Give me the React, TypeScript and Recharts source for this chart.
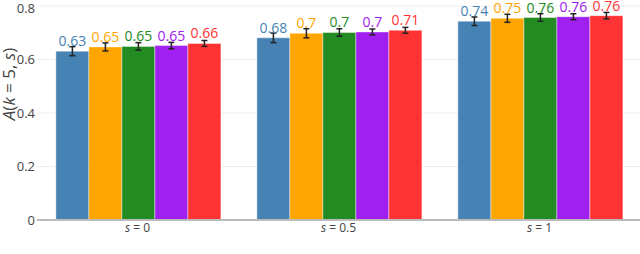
import { Bar, BarChart, CartesianGrid, ErrorBar, LabelList, XAxis, YAxis } from "recharts"

const groups = ["0", "0.5", "1"]

const series = ["blue", "orange", "green", "purple", "red"]
const colors = ["#4682b4", "#ffa500", "#228b22", "#a020f0", "#ff3333"]

const blue = [0.631, 0.681, 0.743]
const orange = [0.647, 0.698, 0.754]
const green = [0.649, 0.701, 0.757]
const purple = [0.652, 0.703, 0.76]
const red = [0.66, 0.709, 0.764]

const blueErr = [0.017, 0.018, 0.016]
const orangeErr = [0.015, 0.017, 0.015]
const greenErr = [0.014, 0.014, 0.014]
const purpleErr = [0.012, 0.011, 0.011]
const redErr = [0.011, 0.011, 0.012]

const yTicks = [0, 0.2, 0.4, 0.6, 0.8]

const values = [blue, orange, green, purple, red]
const errors = [blueErr, orangeErr, greenErr, purpleErr, redErr]

const data = groups.map((g, i) => {
  const row: Record<string, any> = { name: g }
  series.forEach((s, j) => {
    row[s] = values[j][i]
    row[s + "Err"] = errors[j][i]
  })
  return row
})

const font = "'Open Sans', sans-serif"

const fmt = (v: number) => String(Number(v.toFixed(2)))

function XTick(props: any) {
  const { x, y, payload } = props
  return (
    <text x={x} y={y + 8} textAnchor="middle" fontSize={12} fill="#444" fontFamily={font}>
      <tspan fontStyle="italic">s</tspan>
      <tspan> = {payload.value}</tspan>
    </text>
  )
}

export default function App() {
  return (
    <div style={{ position: "absolute", left: 0, top: 0, width: 640, height: 254, background: "#fff" }}>
      <BarChart
        width={640}
        height={254}
        data={data}
        margin={{ top: 6, right: 0, bottom: 0, left: 0 }}
        barCategoryGap="9.4%"
        barGap={0}
      >
        <CartesianGrid vertical={false} stroke="#eeeeee" strokeWidth={1} />
        <XAxis
          dataKey="name"
          height={34}
          tickLine={false}
          tickSize={0}
          tickMargin={4}
          axisLine={{ stroke: "#bbbbbb", strokeWidth: 2 }}
          tick={<XTick />}
          interval={0}
        />
        <YAxis
          width={37}
          domain={[0, 0.8]}
          ticks={yTicks}
          tickLine={false}
          tickSize={0}
          tickMargin={2}
          axisLine={false}
          tickFormatter={(v) => `${v}`}
          tick={{ fontSize: 13, fill: "#444", fontFamily: font }}
        />
        {series.map((s, j) => (
          <Bar
            key={s}
            dataKey={s}
            fill={colors[j]}
            stroke="#ffffff"
            strokeOpacity={0.4}
            strokeWidth={1}
            isAnimationActive={false}
          >
            <ErrorBar dataKey={s + "Err"} width={3} stroke="#222" strokeWidth={1.5} direction="y" />
            <LabelList
              dataKey={s}
              position="top"
              offset={5}
              formatter={(v: any) => fmt(Number(v))}
              fill={colors[j]}
              fontSize={14}
              fontFamily={font}
            />
          </Bar>
        ))}
        <text
          x={10}
          y={84}
          transform="rotate(-90 10 84)"
          textAnchor="middle"
          dominantBaseline="middle"
          fontSize={17}
          fill="#444"
          fontFamily={font}
        >
          <tspan fontStyle="italic">A</tspan>(<tspan fontStyle="italic">k</tspan> = 5, <tspan fontStyle="italic">s</tspan>)
        </text>
      </BarChart>
    </div>
  )
}
